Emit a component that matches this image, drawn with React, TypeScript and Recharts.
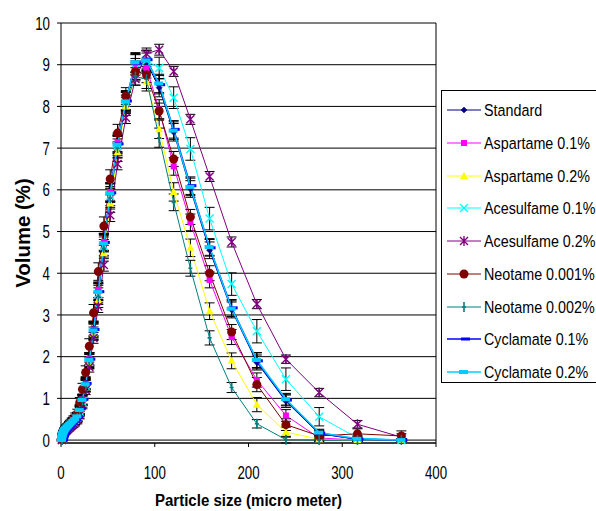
import React from 'react';
import { LineChart, Line, XAxis, YAxis, CartesianGrid, ErrorBar, ReferenceLine } from 'recharts';

// Particle size classes (micro meter)
const sizes = [0.955, 1.10, 1.26, 1.45, 1.66, 1.91, 2.19, 2.51, 2.88, 3.31, 3.80, 4.37, 5.01, 5.75, 6.61, 7.59, 8.71, 10.0, 11.5, 13.2, 15.1, 17.4, 20.0, 22.9, 26.3, 30.2, 34.7, 39.8, 45.7, 52.5, 60.3, 69.2, 79.4, 91.2, 104.7, 120.2, 138.0, 158.5, 182.0, 208.9, 239.9, 275.4, 316.2, 363.1];

// Volume (%)
const standard = [0.00, 0.02, 0.04, 0.07, 0.09, 0.11, 0.13, 0.15, 0.17, 0.19, 0.21, 0.23, 0.25, 0.27, 0.29, 0.31, 0.34, 0.37, 0.40, 0.44, 0.48, 0.55, 0.74, 0.98, 1.38, 1.95, 2.68, 3.60, 4.75, 5.95, 7.10, 8.12, 9.00, 9.05, 8.45, 7.38, 6.02, 4.55, 3.12, 1.86, 0.93, 0.15, 0.02, 0.00];
const aspartame01 = [0.00, 0.02, 0.05, 0.07, 0.09, 0.11, 0.13, 0.15, 0.17, 0.19, 0.21, 0.23, 0.25, 0.27, 0.29, 0.31, 0.34, 0.37, 0.40, 0.44, 0.49, 0.55, 0.72, 0.97, 1.35, 1.95, 2.65, 3.60, 4.75, 5.95, 7.14, 8.15, 9.00, 8.92, 7.93, 6.56, 5.22, 3.84, 2.47, 1.44, 0.59, 0.05, 0.00, 0.00];
const aspartame02 = [0.00, 0.02, 0.04, 0.06, 0.08, 0.10, 0.12, 0.14, 0.16, 0.18, 0.20, 0.22, 0.24, 0.26, 0.28, 0.30, 0.33, 0.36, 0.39, 0.43, 0.48, 0.54, 0.70, 0.95, 1.30, 1.85, 2.55, 3.36, 4.48, 5.67, 6.90, 8.00, 8.85, 8.60, 7.45, 5.95, 4.61, 3.09, 1.90, 0.85, 0.19, 0.02, 0.00, 0.00];
const acesulfame01 = [0.00, 0.02, 0.04, 0.07, 0.09, 0.11, 0.13, 0.15, 0.17, 0.19, 0.21, 0.23, 0.25, 0.27, 0.29, 0.31, 0.34, 0.37, 0.40, 0.44, 0.48, 0.54, 0.68, 0.92, 1.30, 1.88, 2.60, 3.50, 4.65, 5.85, 7.05, 8.10, 8.90, 9.10, 8.92, 8.21, 6.98, 5.31, 3.74, 2.61, 1.46, 0.56, 0.05, 0.00];
const acesulfame02 = [0.00, 0.01, 0.03, 0.05, 0.07, 0.09, 0.10, 0.12, 0.14, 0.16, 0.18, 0.19, 0.21, 0.23, 0.25, 0.27, 0.29, 0.32, 0.35, 0.38, 0.42, 0.48, 0.60, 0.85, 1.20, 1.75, 2.45, 3.20, 4.20, 5.39, 6.62, 7.73, 8.66, 9.26, 9.36, 8.84, 7.69, 6.32, 4.75, 3.26, 1.94, 1.14, 0.38, 0.07];
const neotame0001 = [0.01, 0.04, 0.07, 0.10, 0.12, 0.14, 0.16, 0.18, 0.20, 0.22, 0.24, 0.26, 0.28, 0.30, 0.32, 0.34, 0.37, 0.40, 0.44, 0.49, 0.55, 0.63, 0.90, 1.22, 1.62, 2.25, 3.05, 4.04, 5.13, 6.26, 7.36, 8.25, 8.84, 8.76, 7.89, 6.74, 5.35, 4.00, 2.59, 1.33, 0.37, 0.10, 0.15, 0.10];
const neotame0002 = [0.00, 0.02, 0.04, 0.06, 0.08, 0.10, 0.12, 0.14, 0.16, 0.18, 0.20, 0.22, 0.24, 0.26, 0.28, 0.30, 0.33, 0.36, 0.39, 0.43, 0.47, 0.53, 0.70, 0.95, 1.30, 1.90, 2.60, 3.45, 4.60, 5.80, 7.00, 8.05, 8.72, 8.65, 7.25, 5.70, 4.12, 2.45, 1.26, 0.39, 0.01, 0.00, 0.00, 0.00];
const cyclamate01 = [0.00, 0.02, 0.05, 0.08, 0.10, 0.12, 0.14, 0.16, 0.18, 0.20, 0.22, 0.24, 0.26, 0.28, 0.30, 0.32, 0.35, 0.38, 0.41, 0.45, 0.49, 0.56, 0.75, 0.98, 1.36, 1.94, 2.65, 3.56, 4.74, 5.93, 7.10, 8.13, 9.04, 9.12, 8.52, 7.45, 6.10, 4.61, 3.17, 1.90, 0.96, 0.17, 0.02, 0.00];
const cyclamate02 = [0.00, 0.03, 0.06, 0.09, 0.11, 0.13, 0.15, 0.17, 0.19, 0.21, 0.23, 0.25, 0.27, 0.29, 0.31, 0.33, 0.36, 0.39, 0.42, 0.46, 0.50, 0.57, 0.72, 0.96, 1.34, 1.92, 2.63, 3.55, 4.72, 5.92, 7.08, 8.12, 9.06, 9.10, 8.55, 7.42, 6.07, 4.63, 3.15, 1.92, 0.98, 0.18, 0.03, 0.00];

// Error bars (± Volume %)
const errStandard = [0.02, 0.03, 0.03, 0.04, 0.04, 0.04, 0.05, 0.05, 0.05, 0.05, 0.05, 0.06, 0.06, 0.06, 0.06, 0.07, 0.07, 0.07, 0.08, 0.08, 0.09, 0.10, 0.10, 0.12, 0.14, 0.15, 0.17, 0.19, 0.21, 0.22, 0.21, 0.22, 0.24, 0.23, 0.22, 0.21, 0.20, 0.20, 0.19, 0.18, 0.15, 0.08, 0.05, 0.03];
const errAspartame01 = [0.02, 0.02, 0.03, 0.03, 0.04, 0.04, 0.04, 0.05, 0.05, 0.05, 0.06, 0.06, 0.06, 0.07, 0.07, 0.07, 0.08, 0.08, 0.08, 0.09, 0.09, 0.10, 0.11, 0.12, 0.13, 0.15, 0.17, 0.18, 0.20, 0.22, 0.22, 0.23, 0.25, 0.24, 0.23, 0.21, 0.20, 0.19, 0.18, 0.17, 0.14, 0.06, 0.04, 0.03];
const errAspartame02 = [0.02, 0.02, 0.03, 0.03, 0.03, 0.04, 0.04, 0.04, 0.05, 0.05, 0.05, 0.05, 0.06, 0.06, 0.06, 0.07, 0.07, 0.08, 0.08, 0.08, 0.09, 0.10, 0.10, 0.11, 0.13, 0.14, 0.16, 0.18, 0.19, 0.21, 0.22, 0.22, 0.24, 0.23, 0.22, 0.22, 0.21, 0.20, 0.19, 0.17, 0.12, 0.05, 0.03, 0.02];
const errAcesulfame01 = [0.02, 0.03, 0.03, 0.04, 0.04, 0.05, 0.05, 0.05, 0.06, 0.06, 0.06, 0.06, 0.07, 0.07, 0.07, 0.08, 0.08, 0.08, 0.09, 0.09, 0.10, 0.11, 0.12, 0.13, 0.15, 0.17, 0.19, 0.21, 0.22, 0.23, 0.23, 0.24, 0.25, 0.25, 0.26, 0.26, 0.27, 0.27, 0.27, 0.28, 0.27, 0.22, 0.06, 0.03];
const errAcesulfame02 = [0.02, 0.02, 0.03, 0.03, 0.03, 0.04, 0.04, 0.04, 0.05, 0.05, 0.05, 0.05, 0.06, 0.06, 0.06, 0.06, 0.07, 0.07, 0.07, 0.08, 0.08, 0.09, 0.09, 0.10, 0.11, 0.12, 0.13, 0.14, 0.15, 0.15, 0.14, 0.14, 0.15, 0.14, 0.13, 0.12, 0.12, 0.12, 0.12, 0.11, 0.10, 0.10, 0.09, 0.08];
const errNeotame0001 = [0.02, 0.03, 0.03, 0.04, 0.04, 0.05, 0.05, 0.05, 0.05, 0.06, 0.06, 0.06, 0.06, 0.07, 0.07, 0.07, 0.08, 0.08, 0.09, 0.09, 0.10, 0.11, 0.12, 0.14, 0.16, 0.18, 0.20, 0.21, 0.22, 0.22, 0.21, 0.20, 0.20, 0.19, 0.19, 0.18, 0.18, 0.18, 0.18, 0.17, 0.14, 0.10, 0.12, 0.12];
const errNeotame0002 = [0.02, 0.02, 0.03, 0.03, 0.04, 0.04, 0.04, 0.05, 0.05, 0.05, 0.05, 0.06, 0.06, 0.06, 0.07, 0.07, 0.07, 0.08, 0.08, 0.09, 0.09, 0.10, 0.11, 0.12, 0.14, 0.16, 0.18, 0.20, 0.21, 0.22, 0.22, 0.22, 0.21, 0.22, 0.23, 0.20, 0.19, 0.17, 0.12, 0.10, 0.08, 0.03, 0.02, 0.02];
const errCyclamate01 = [0.02, 0.03, 0.03, 0.04, 0.04, 0.04, 0.05, 0.05, 0.05, 0.06, 0.06, 0.06, 0.06, 0.07, 0.07, 0.07, 0.08, 0.08, 0.08, 0.09, 0.09, 0.10, 0.11, 0.12, 0.14, 0.16, 0.18, 0.19, 0.21, 0.22, 0.22, 0.22, 0.23, 0.22, 0.22, 0.21, 0.21, 0.20, 0.20, 0.19, 0.14, 0.07, 0.05, 0.03];
const errCyclamate02 = [0.02, 0.03, 0.03, 0.04, 0.04, 0.05, 0.05, 0.05, 0.05, 0.06, 0.06, 0.06, 0.07, 0.07, 0.07, 0.07, 0.08, 0.08, 0.09, 0.09, 0.10, 0.10, 0.11, 0.13, 0.14, 0.16, 0.18, 0.20, 0.21, 0.22, 0.22, 0.23, 0.23, 0.23, 0.22, 0.21, 0.21, 0.20, 0.19, 0.18, 0.14, 0.08, 0.05, 0.03];

const xTicks = [0, 100, 200, 300, 400];
const yTicks = [0, 1, 2, 3, 4, 5, 6, 7, 8, 9, 10];

type Shape = 'diamond' | 'square' | 'triangle' | 'cross' | 'star' | 'circle' | 'plus' | 'dash' | 'dashWide';

const SERIES: { key: string; name: string; color: string; shape: Shape; width: number; values: number[]; errors: number[] }[] = [
  { key: 'standard', name: 'Standard', color: '#000080', shape: 'diamond', width: 1, values: standard, errors: errStandard },
  { key: 'asp01', name: 'Aspartame 0.1%', color: '#FF00FF', shape: 'square', width: 1, values: aspartame01, errors: errAspartame01 },
  { key: 'asp02', name: 'Aspartame 0.2%', color: '#FFFF00', shape: 'triangle', width: 1, values: aspartame02, errors: errAspartame02 },
  { key: 'ace01', name: 'Acesulfame 0.1%', color: '#00FFFF', shape: 'cross', width: 1, values: acesulfame01, errors: errAcesulfame01 },
  { key: 'ace02', name: 'Acesulfame 0.2%', color: '#800080', shape: 'star', width: 1, values: acesulfame02, errors: errAcesulfame02 },
  { key: 'neo0001', name: 'Neotame 0.001%', color: '#800000', shape: 'circle', width: 1, values: neotame0001, errors: errNeotame0001 },
  { key: 'neo0002', name: 'Neotame 0.002%', color: '#008080', shape: 'plus', width: 1, values: neotame0002, errors: errNeotame0002 },
  { key: 'cyc01', name: 'Cyclamate 0.1%', color: '#0000FF', shape: 'dash', width: 1.5, values: cyclamate01, errors: errCyclamate01 },
  { key: 'cyc02', name: 'Cyclamate 0.2%', color: '#00CCFF', shape: 'dashWide', width: 1.5, values: cyclamate02, errors: errCyclamate02 },
];

const rows = sizes.map((x, i) => {
  const r: Record<string, number> = { x };
  SERIES.forEach((s) => {
    r[s.key] = s.values[i];
    r[s.key + '_e'] = s.errors[i];
  });
  return r;
});

const FONT = "'Liberation Sans', Arial, sans-serif";

function Marker({ shape, cx, cy, color }: { shape: Shape; cx: number; cy: number; color: string }) {
  if (cx == null || cy == null || isNaN(cx) || isNaN(cy)) return null;
  switch (shape) {
    case 'diamond':
      return <path d={`M${cx},${cy - 3}L${cx + 3},${cy}L${cx},${cy + 3}L${cx - 3},${cy}Z`} fill={color} stroke={color} strokeWidth={0.5} />;
    case 'square':
      return <rect x={cx - 3} y={cy - 3} width={6} height={6} fill={color} />;
    case 'triangle':
      return <path d={`M${cx},${cy - 4}L${cx + 4},${cy + 3}L${cx - 4},${cy + 3}Z`} fill={color} />;
    case 'cross':
      return <path d={`M${cx - 4},${cy - 4}L${cx + 4},${cy + 4}M${cx - 4},${cy + 4}L${cx + 4},${cy - 4}`} stroke={color} strokeWidth={1.4} fill="none" />;
    case 'star':
      return <path d={`M${cx - 4},${cy - 4}L${cx + 4},${cy + 4}M${cx - 4},${cy + 4}L${cx + 4},${cy - 4}M${cx},${cy - 5}L${cx},${cy + 5}`} stroke={color} strokeWidth={1.4} fill="none" />;
    case 'circle':
      return <circle cx={cx} cy={cy} r={4.5} fill={color} />;
    case 'plus':
      return <path d={`M${cx},${cy - 5}L${cx},${cy + 5}M${cx - 2},${cy}L${cx + 2},${cy}`} stroke={color} strokeWidth={1.6} fill="none" />;
    case 'dash':
      return <rect x={cx - 3} y={cy - 1.5} width={9} height={3} fill={color} />;
    case 'dashWide':
      return <rect x={cx - 5} y={cy - 2} width={9} height={4} fill={color} />;
  }
  return null;
}

function XTick(props: any) {
  const { x, y, payload } = props;
  return (
    <g transform={`translate(${x},${y + 32.3}) scale(0.72,1)`}>
      <text x={0} y={0} textAnchor="middle" fontSize={18.5} fontFamily={FONT} fill="#000">{payload.value}</text>
    </g>
  );
}

function YTick(props: any) {
  const { x, y, payload } = props;
  return (
    <g transform={`translate(${x - 7},${y + 6.6}) scale(0.72,1)`}>
      <text x={0} y={0} textAnchor="end" fontSize={18.5} fontFamily={FONT} fill="#000">{payload.value}</text>
    </g>
  );
}

function XTitle(props: any) {
  const vb = props.viewBox || {};
  const cx = vb.x + vb.width / 2;
  const by = vb.y + vb.height - 5.5;
  return (
    <g transform={`translate(${cx},${by}) scale(0.895,1)`}>
      <text x={0} y={0} textAnchor="middle" fontSize={16.8} fontWeight="bold" fontFamily={FONT} fill="#000">Particle size (micro meter)</text>
    </g>
  );
}

function YTitle(props: any) {
  const vb = props.viewBox || {};
  const cy = vb.y + vb.height / 2;
  return (
    <text transform={`translate(30,${cy}) rotate(-90)`} x={0} y={0} textAnchor="middle" fontSize={20.4} fontWeight="bold" fontFamily={FONT} fill="#000">Volume (%)</text>
  );
}

function LegendBox() {
  return (
    <div style={{ position: 'absolute', left: 441, top: 90, width: 175, height: 293, border: '1px solid #000', boxSizing: 'border-box', background: '#fff' }}>
      {SERIES.map((s, i) => (
        <div key={s.key} style={{ position: 'absolute', left: 5, top: 19 + i * 32.75 - 10, height: 20, display: 'flex', alignItems: 'center', whiteSpace: 'nowrap' }}>
          <svg width={37} height={20} style={{ display: 'block' }}>
            <line x1={0} y1={10} x2={34} y2={10} stroke={s.color} strokeWidth={s.width} />
            <Marker shape={s.shape} cx={17} cy={10} color={s.color} />
          </svg>
          <span style={{ display: 'inline-block', fontFamily: FONT, fontSize: 16.3, lineHeight: '20px', transform: 'scaleX(0.88)', transformOrigin: 'left center', color: '#000' }}>{s.name}</span>
        </div>
      ))}
    </div>
  );
}

export default function App() {
  return (
    <div style={{ position: 'absolute', left: 0, top: 0, width: 596, height: 511, overflow: 'hidden', background: '#fff' }}>
      <LineChart width={596} height={511} data={rows} margin={{ top: 23, right: 160, bottom: 0, left: 0 }}>
        <CartesianGrid horizontal={true} vertical={false} stroke="#000" strokeWidth={1} />
        <XAxis
          type="number"
          dataKey="x"
          domain={[0, 400]}
          ticks={xTicks}
          height={68}
          tickSize={4}
          tickMargin={0}
          tick={(p: any) => <XTick {...p} />}
          axisLine={{ stroke: '#000', strokeWidth: 1 }}
          tickLine={{ stroke: '#000', strokeWidth: 1 }}
          label={<XTitle />}
        />
        <YAxis
          type="number"
          domain={[0, 10]}
          ticks={yTicks}
          width={61}
          tickSize={4}
          tickMargin={0}
          tick={(p: any) => <YTick {...p} />}
          axisLine={{ stroke: '#000', strokeWidth: 1 }}
          tickLine={{ stroke: '#000', strokeWidth: 1 }}
          label={<YTitle />}
        />
        <ReferenceLine x={400} stroke="#000" strokeWidth={1} />
        {SERIES.map((s) => (
          <Line
            key={s.key}
            type="linear"
            dataKey={s.key}
            name={s.name}
            stroke={s.color}
            strokeWidth={s.width}
            isAnimationActive={false}
            activeDot={false}
            dot={(p: any) => <Marker key={`${s.key}-${p.index}`} shape={s.shape} cx={p.cx} cy={p.cy} color={s.color} />}
          >
            <ErrorBar dataKey={s.key + '_e'} width={5} stroke="#000" strokeWidth={1} direction="y" isAnimationActive={false} />
          </Line>
        ))}
      </LineChart>
      <LegendBox />
    </div>
  );
}
